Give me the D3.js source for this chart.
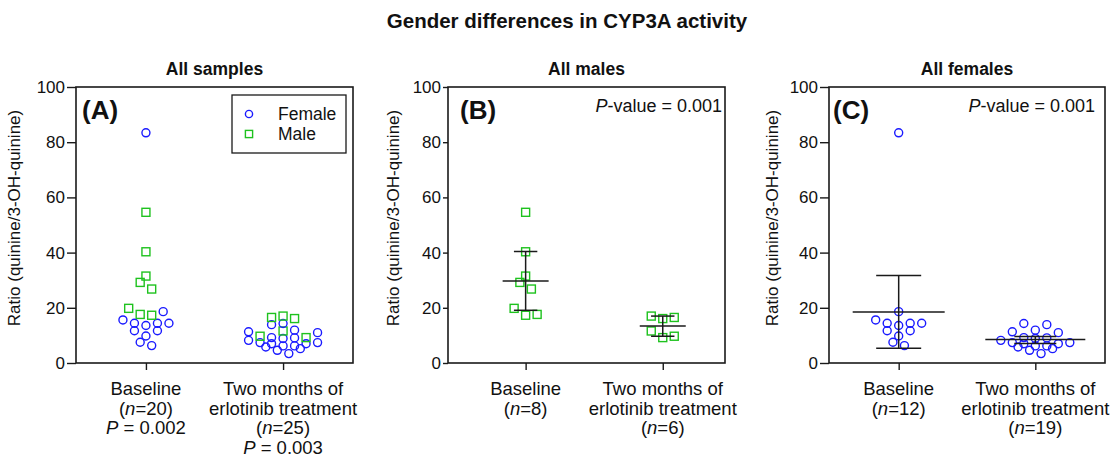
<!DOCTYPE html>
<html><head><meta charset="utf-8">
<script src="https://cdn.jsdelivr.net/npm/d3@7"></script>
<style>
body{margin:0;background:#fff;}
text{font-family:"Liberation Sans",Arial,Helvetica,sans-serif;fill:#111;}
</style>
</head><body>
<svg id="chart" width="1113" height="456"></svg>
<script>
// ---------------- data ----------------
const categories = ["Baseline", "Two months"];
const yTicks = [0, 20, 40, 60, 80, 100];

const femaleBaseline  = [83.4, 18.6, 14.4, 14.4, 11.7, 9.8, 11.7, 13.6, 14.4, 15.6, 6.3, 7.5];
const maleBaseline    = [54.6, 40.3, 31.5, 29.2, 26.8, 19.8, 17.3, 17.6];
const femaleTwoMonths = [11.3, 13.9, 14.3, 11.0, 11.9, 9.1, 8.9, 8.2, 9.2, 7.4, 7.0, 6.2, 5.2, 3.4, 4.6, 5.8, 6.2, 7.0, 7.4];
const maleTwoMonths   = [16.5, 16.1, 17.0, 11.6, 9.2, 9.7];

// summary lines (centre line and error-bar ends) per category
const maleMean    = [29.7, 13.4];
const maleLower   = [19.1, 9.7];
const maleUpper   = [40.4, 17.0];
const femaleMean  = [18.5, 8.5];
const femaleLower = [5.3, 7.1];
const femaleUpper = [31.7, 9.6];

const labelsA = [["Baseline", "(*n*=20)", "*P* = 0.002"], ["Two months of", "erlotinib treatment", "(*n*=25)", "*P* = 0.003"]];
const labelsB = [["Baseline", "(*n*=8)"], ["Two months of", "erlotinib treatment", "(*n*=6)"]];
const labelsC = [["Baseline", "(*n*=12)"], ["Two months of", "erlotinib treatment", "(*n*=19)"]];

const mainTitle = "Gender differences in CYP3A activity";
const yTitle = "Ratio (quinine/3-OH-quinine)";
const pValue = "0.001";

// ---------------- styling ----------------
const BLUE = "#1a1aff", GREEN = "#1ec21e", INK = "#1a1a1a";
const svg = d3.select("#chart");
const plotTop = 87, plotBottom = 363;

svg.append("text").attr("x", 567).attr("y", 28).attr("text-anchor", "middle")
  .style("font-size", "20.5px").style("font-weight", "bold").text(mainTitle);

const panels = [
  {letter: "(A)", title: "All samples", x0: 76, x1: 353, align: 0.5, tick: 9, letterDx: 6, ytx: 20,
   groups: [[femaleBaseline, maleBaseline], [femaleTwoMonths, maleTwoMonths]],
   labels: labelsA, legend: true},
  {letter: "(B)", title: "All males", x0: 448, x1: 725, align: 0.555, tick: 5, letterDx: 12, ytx: 399,
   groups: [[[], maleBaseline], [[], maleTwoMonths]],
   summary: {mean: maleMean, lower: maleLower, upper: maleUpper, half: [23, 23], cap: [11.7, 11.7]},
   labels: labelsB, pDx: 3},
  {letter: "(C)", title: "All females", x0: 829, x1: 1105, align: 0.5, tick: 9, letterDx: 4, ytx: 778,
   groups: [[femaleBaseline, []], [femaleTwoMonths, []]],
   summary: {mean: femaleMean, lower: femaleLower, upper: femaleUpper, half: [46, 50], cap: [22.5, 21]},
   labels: labelsC, pDx: 10}
];

const y = d3.scaleLinear().domain([0, 100]).range([plotBottom, plotTop]);

// row-based scatter-dot layout: points within a short vertical band share a row,
// spread centre-out (lowest value at the centre)
function swarm(list, cx) {
  const slot = 11.5, band = 7;
  const sorted = list.slice().sort((a, b) => a.v - b.v);
  const rows = [];
  sorted.forEach(p => {
    const py = y(p.v);
    const row = rows[rows.length - 1];
    if (row && row.start - py < band) row.items.push({...p, py});
    else rows.push({start: py, items: [{...p, py}]});
  });
  const out = [];
  rows.forEach(row => {
    const n = row.items.length;
    const offs = d3.range(n).map(i => i - (n - 1) / 2)
      .sort((a, b) => Math.abs(a) - Math.abs(b) || b - a);
    row.items.forEach((p, i) => out.push({x: cx + offs[i] * slot, y: p.py, g: p.g}));
  });
  return out;
}

function richText(sel, str) {
  str.split("*").forEach((part, i) => {
    if (!part) return;
    sel.append("tspan").style("font-style", i % 2 ? "italic" : "normal").text(part);
  });
}

function drawMarker(g, d, r) {
  if (d.g === "F") {
    g.append("circle").attr("cx", d.x).attr("cy", d.y).attr("r", r)
      .attr("fill", "none").attr("stroke", BLUE).attr("stroke-width", 1.4);
  } else {
    g.append("rect").attr("x", d.x - r).attr("y", d.y - r).attr("width", 2 * r).attr("height", 2 * r)
      .attr("fill", "none").attr("stroke", GREEN).attr("stroke-width", 1.4);
  }
}

panels.forEach(P => {
  const g = svg.append("g");
  const x = d3.scalePoint().domain(categories).range([P.x0, P.x1]).padding(0.51).align(P.align);

  g.append("text").attr("x", (P.x0 + P.x1) / 2).attr("y", 75).attr("text-anchor", "middle")
    .style("font-size", "17.5px").style("font-weight", "bold").text(P.title);

  const ya = g.append("g").attr("transform", `translate(${P.x0},0)`)
    .call(d3.axisLeft(y).tickValues(yTicks).tickSize(P.tick).tickPadding(2).tickSizeOuter(0));
  ya.select(".domain").remove();
  ya.selectAll("line").attr("stroke", INK).attr("stroke-width", 1.4);
  ya.selectAll("text").style("font-size", "17px").attr("fill", INK)
    .style("font-family", '"Liberation Sans",Arial,sans-serif');

  const xa = g.append("g").attr("transform", `translate(0,${plotBottom})`)
    .call(d3.axisBottom(x).tickSize(7).tickFormat(""));
  xa.select(".domain").remove();
  xa.selectAll("line").attr("stroke", INK).attr("stroke-width", 1.4);

  g.append("rect").attr("x", P.x0).attr("y", plotTop).attr("width", P.x1 - P.x0).attr("height", plotBottom - plotTop)
    .attr("fill", "none").attr("stroke", INK).attr("stroke-width", 1.6);

  g.append("text").attr("transform", `translate(${P.ytx},218) rotate(-90)`).attr("text-anchor", "middle")
    .style("font-size", "17px").text(yTitle);

  categories.forEach((c, i) => {
    P.labels[i].forEach((line, j) => {
      const t = g.append("text").attr("x", x(c)).attr("y", 395 + j * 19.5).attr("text-anchor", "middle")
        .style("font-size", "18.5px");
      richText(t, line);
    });
  });

  categories.forEach((c, i) => {
    const [fem, mal] = P.groups[i];
    const list = fem.map(v => ({v, g: "F"})).concat(mal.map(v => ({v, g: "M"})));
    const pts = swarm(list, x(c));
    const pg = g.append("g");
    pts.forEach(d => drawMarker(pg, d, 4));
  });

  if (P.summary) {
    const S = P.summary;
    categories.forEach((c, i) => {
      const cx = x(c);
      const lg = g.append("g").attr("stroke", INK).attr("stroke-width", 1.5);
      lg.append("line").attr("x1", cx).attr("x2", cx).attr("y1", y(S.lower[i])).attr("y2", y(S.upper[i]));
      lg.append("line").attr("x1", cx - S.half[i]).attr("x2", cx + S.half[i]).attr("y1", y(S.mean[i])).attr("y2", y(S.mean[i]));
      [S.lower[i], S.upper[i]].forEach(v => {
        lg.append("line").attr("x1", cx - S.cap[i]).attr("x2", cx + S.cap[i]).attr("y1", y(v)).attr("y2", y(v));
      });
    });
    const t = g.append("text").attr("x", P.x1 - P.pDx).attr("y", 112).attr("text-anchor", "end")
      .style("font-size", "18px");
    richText(t, "*P*-value = " + pValue);
  }

  g.append("text").attr("x", P.x0 + P.letterDx).attr("y", 119)
    .style("font-size", "26px").style("font-weight", "bold").text(P.letter);

  if (P.legend) {
    const lg = g.append("g");
    lg.append("rect").attr("x", 232).attr("y", 95).attr("width", 114).attr("height", 58)
      .attr("fill", "#fff").attr("stroke", INK).attr("stroke-width", 1.3);
    [["F", "Female", 114], ["M", "Male", 134]].forEach(([gg, name, yy]) => {
      drawMarker(lg, {x: 249, y: yy, g: gg}, 3.6);
      lg.append("text").attr("x", 278).attr("y", yy + 6).style("font-size", "17.5px").text(name);
    });
  }
});
</script>
</body></html>
